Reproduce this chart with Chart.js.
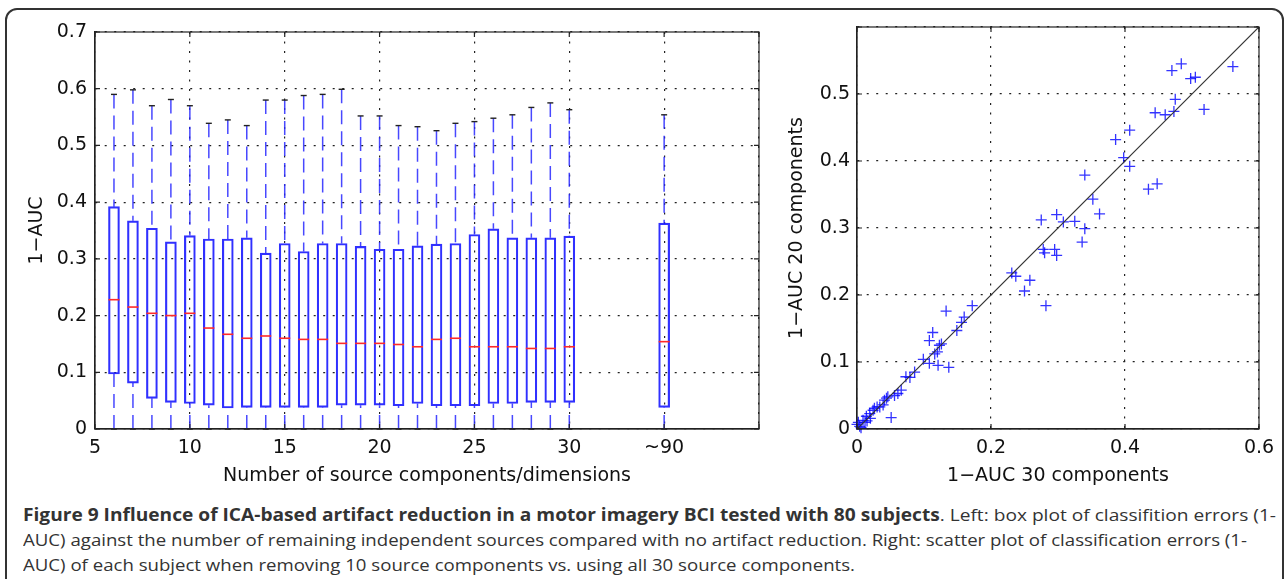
<!DOCTYPE html>
<html>
<head>
<meta charset="utf-8">
<script src="https://cdn.jsdelivr.net/npm/chart.js@4"></script>
<style>
  body { margin: 0; background: #fff; width: 1287px; height: 579px; overflow: hidden; position: relative; }
  #frame { position: absolute; left: 5px; top: 8px; width: 1279px; height: 640px; border: 2px solid #333; border-radius: 12px; box-sizing: border-box; }
  #left { position: absolute; left: 0; top: 0; }
  #right { position: absolute; left: 780px; top: 0; }
  #caption { position: absolute; left: 23px; top: 502px; font-family: 'Open Sans'; font-size: 17px; color: #333; line-height: 25px; }
  #caption div { white-space: nowrap; transform-origin: 0 0; width: max-content; }
</style>
</head>
<body>
<div id="frame"></div>
<canvas id="left" width="800" height="500"></canvas>
<canvas id="right" width="507" height="500"></canvas>
<div id="caption">
  <div><b>Figure 9 Influence of ICA-based artifact reduction in a motor imagery BCI tested with 80 subjects</b>. Left: box plot of classifition errors (1-</div>
  <div>AUC) against the number of remaining independent sources compared with no artifact reduction. Right: scatter plot of classification errors (1-</div>
  <div>AUC) of each subject when removing 10 source components vs. using all 30 source components.</div>
</div>
<script>
// left panel: box plot, x = number of components (35 stands for "~90")
const boxX = [6, 7, 8, 9, 10, 11, 12, 13, 14, 15, 16, 17, 18, 19, 20, 21, 22, 23, 24, 25, 26, 27, 28, 29, 30, 35];
const xTickValues = [5, 10, 15, 20, 25, 30, 35, 40];
const xTickText = ['5', '10', '15', '20', '25', '30', '~90', ''];

const whiskerHigh = [0.590, 0.598, 0.570, 0.581, 0.570, 0.539, 0.545, 0.535, 0.580, 0.580, 0.588, 0.590, 0.599,
                     0.552, 0.552, 0.535, 0.533, 0.526, 0.539, 0.542, 0.548, 0.554, 0.567, 0.575, 0.563, 0.554];
const q3 = [0.392, 0.367, 0.354, 0.330, 0.341, 0.335, 0.335, 0.337, 0.310, 0.327, 0.313, 0.327, 0.327,
            0.322, 0.317, 0.317, 0.323, 0.326, 0.327, 0.343, 0.353, 0.337, 0.337, 0.337, 0.340, 0.363];
const median = [0.228, 0.215, 0.204, 0.200, 0.204, 0.178, 0.167, 0.160, 0.164, 0.160, 0.158, 0.158, 0.151,
                0.151, 0.151, 0.149, 0.145, 0.158, 0.160, 0.145, 0.145, 0.145, 0.142, 0.142, 0.145, 0.154];
const q1 = [0.097, 0.081, 0.054, 0.047, 0.045, 0.042, 0.037, 0.038, 0.038, 0.038, 0.038, 0.038, 0.042,
            0.042, 0.042, 0.041, 0.045, 0.041, 0.041, 0.041, 0.045, 0.045, 0.047, 0.047, 0.047, 0.038];
const whiskerLow = [0, 0, 0, 0, 0, 0, 0, 0, 0, 0, 0, 0, 0, 0, 0, 0, 0, 0, 0, 0, 0, 0, 0, 0, 0, 0];

// right panel: 1-AUC per subject, 30 components (x) vs 20 components (y)
const err30 = [0.561, 0.484, 0.470, 0.498, 0.505, 0.475, 0.445, 0.460, 0.473, 0.518,
               0.386, 0.407, 0.398, 0.407, 0.435, 0.448,
               0.340, 0.352, 0.362, 0.275, 0.298, 0.308, 0.325, 0.340, 0.336, 0.278, 0.280, 0.295, 0.298,
               0.231, 0.237, 0.258, 0.250, 0.282,
               0.172, 0.133, 0.160, 0.156, 0.149, 0.113, 0.108, 0.123, 0.126, 0.116, 0.121, 0.137, 0.108, 0.099, 0.120,
               0.086, 0.079, 0.073, 0.066, 0.061, 0.051, 0.046, 0.041, 0.039, 0.034, 0.026, 0.030, 0.019, 0.014, 0.009,
               0.000, 0.004, 0.012, 0.020, 0.024, 0.044, 0.056, 0.002, 0.015, 0.006];
const err20 = [0.541, 0.545, 0.535, 0.523, 0.525, 0.492, 0.472, 0.469, 0.474, 0.477,
               0.432, 0.446, 0.405, 0.392, 0.358, 0.366,
               0.379, 0.343, 0.321, 0.312, 0.320, 0.309, 0.310, 0.299, 0.279, 0.268, 0.263, 0.268, 0.259,
               0.233, 0.228, 0.222, 0.206, 0.184,
               0.184, 0.176, 0.167, 0.159, 0.147, 0.144, 0.132, 0.125, 0.127, 0.112, 0.095, 0.092, 0.098, 0.104, 0.115,
               0.085, 0.077, 0.078, 0.058, 0.053, 0.017, 0.048, 0.043, 0.036, 0.033, 0.031, 0.033, 0.023, 0.019, 0.013,
               0.007, 0.004, 0.010, 0.016, 0.028, 0.046, 0.050, 0.010, 0.012, 0.002];
const identity = [0, 0.6];

Chart.defaults.font.family = 'DejaVu Sans';
Chart.defaults.font.size = 19;
Chart.defaults.color = '#111';
Chart.defaults.animation = false;

const gridStyle = { color: '#222', lineWidth: 1.2, drawTicks: false, offset: false };
const borderStyle = { color: '#222', width: 1.2, dash: [2, 7.5] };

// matplotlib-like closed frame with inward tick marks
const framePlugin = {
  id: 'frame',
  afterDatasetsDraw(chart) {
    const { ctx, chartArea: a, scales } = chart;
    ctx.save();
    ctx.strokeStyle = '#222';
    ctx.lineWidth = 1.2;
    ctx.setLineDash([]);
    ctx.strokeRect(a.left, a.top, a.right - a.left, a.bottom - a.top);
    ctx.beginPath();
    scales.x.ticks.forEach(t => {
      const px = scales.x.getPixelForValue(t.value);
      ctx.moveTo(px, a.bottom); ctx.lineTo(px, a.bottom - 5);
      ctx.moveTo(px, a.top); ctx.lineTo(px, a.top + 5);
    });
    scales.y.ticks.forEach(t => {
      const py = scales.y.getPixelForValue(t.value);
      ctx.moveTo(a.left, py); ctx.lineTo(a.left + 5, py);
      ctx.moveTo(a.right, py); ctx.lineTo(a.right - 5, py);
    });
    ctx.stroke();
    ctx.restore();
  }
};

const whiskerPts = [];
const capPts = [];
boxX.forEach((x, i) => {
  whiskerPts.push({ x: x, y: whiskerHigh[i] }, { x: x, y: q3[i] }, { x: x, y: null });
  whiskerPts.push({ x: x, y: whiskerLow[i] }, { x: x, y: q1[i] }, { x: x, y: null });
  capPts.push({ x: x, y: whiskerHigh[i] }, { x: x, y: whiskerLow[i] });
});

new Chart(document.getElementById('left'), {
  type: 'bar',
  data: {
    datasets: [
      {
        type: 'scatter',
        data: boxX.map((x, i) => ({ x: x, y: median[i] })),
        pointStyle: 'line', pointRadius: 5.5, borderColor: '#ff2a2a', borderWidth: 1.6,
        order: 0, clip: false
      },
      {
        type: 'scatter',
        data: capPts,
        pointStyle: 'line', pointRadius: 3, borderColor: '#222', borderWidth: 1.4,
        order: 1, clip: false
      },
      {
        type: 'bar',
        data: boxX.map((x, i) => ({ x: x, y: [q1[i], q3[i]] })),
        backgroundColor: 'rgba(0,0,0,0)',
        borderColor: 'rgba(25,25,255,0.9)',
        borderWidth: 1.5,
        borderSkipped: false,
        barThickness: 11,
        order: 2
      },
      {
        type: 'line',
        data: whiskerPts,
        borderColor: 'rgba(40,40,255,0.85)',
        borderWidth: 1.5,
        borderDash: [14, 7],
        pointRadius: 0,
        spanGaps: false,
        order: 3
      }
    ]
  },
  options: {
    responsive: false,
    layout: { padding: { left: 0, right: 41, top: 32, bottom: 11 } },
    plugins: { legend: { display: false }, tooltip: { enabled: false } },
    scales: {
      x: {
        type: 'linear', min: 5, max: 40, offset: false,
        afterBuildTicks: s => { s.ticks = xTickValues.map(v => ({ value: v })); },
        afterFit: s => { s.height = 60; },
        grid: gridStyle, border: borderStyle,
        ticks: { padding: 8, maxRotation: 0, autoSkip: false,
                 callback: v => { const i = xTickValues.indexOf(v); return i >= 0 ? xTickText[i] : ''; } },
        title: { display: true, text: 'Number of source components/dimensions', padding: { top: 0, bottom: 2 } }
      },
      y: {
        min: 0, max: 0.7,
        afterBuildTicks: s => { s.ticks = [0, 0.1, 0.2, 0.3, 0.4, 0.5, 0.6, 0.7].map(v => ({ value: v })); },
        afterFit: s => { s.width = 95; },
        grid: gridStyle, border: borderStyle,
        ticks: { padding: 8, callback: v => String(v) },
        title: { display: true, text: '1\u2212AUC', padding: { top: 26, bottom: 0 } }
      }
    }
  },
  plugins: [framePlugin]
});

new Chart(document.getElementById('right'), {
  type: 'scatter',
  data: {
    datasets: [
      {
        type: 'line',
        data: identity.map(v => ({ x: v, y: v })),
        borderColor: '#333', borderWidth: 1.2, pointRadius: 0,
        order: 0
      },
      {
        data: err30.map((x, i) => ({ x: x, y: err20[i] })),
        pointStyle: 'cross', pointRadius: 5.5,
        borderColor: 'rgba(0,0,255,0.8)', borderWidth: 1.3,
        order: 1, clip: false
      }
    ]
  },
  options: {
    responsive: false,
    layout: { padding: { left: 0, right: 28, top: 27, bottom: 11 } },
    plugins: { legend: { display: false }, tooltip: { enabled: false } },
    scales: {
      x: {
        type: 'linear', min: 0, max: 0.6,
        afterBuildTicks: s => { s.ticks = [0, 0.2, 0.4, 0.6].map(v => ({ value: v })); },
        afterFit: s => { s.height = 60; },
        grid: gridStyle, border: borderStyle,
        ticks: { padding: 8, maxRotation: 0, callback: v => String(v) },
        title: { display: true, text: '1\u2212AUC 30 components', padding: { top: 0, bottom: 2 } }
      },
      y: {
        min: 0, max: 0.6,
        afterBuildTicks: s => { s.ticks = [0, 0.1, 0.2, 0.3, 0.4, 0.5, 0.6].map(v => ({ value: v })); },
        afterFit: s => { s.width = 77; },
        grid: gridStyle, border: borderStyle,
        ticks: { padding: 7, callback: v => (v >= 0.6 ? '' : String(v)) },
        title: { display: true, text: '1\u2212AUC 20 components', padding: { top: 6, bottom: 0 } }
      }
    }
  },
  plugins: [framePlugin]
});

// squeeze caption lines to the widths they take in the figure
const captionWidths = [1253, 1224, 832];
document.fonts.ready.then(() => {
  document.querySelectorAll('#caption div').forEach((d, i) => {
    const w = d.getBoundingClientRect().width;
    d.style.transform = 'scaleX(' + (captionWidths[i] / w) + ')';
  });
});
</script>
</body>
</html>
